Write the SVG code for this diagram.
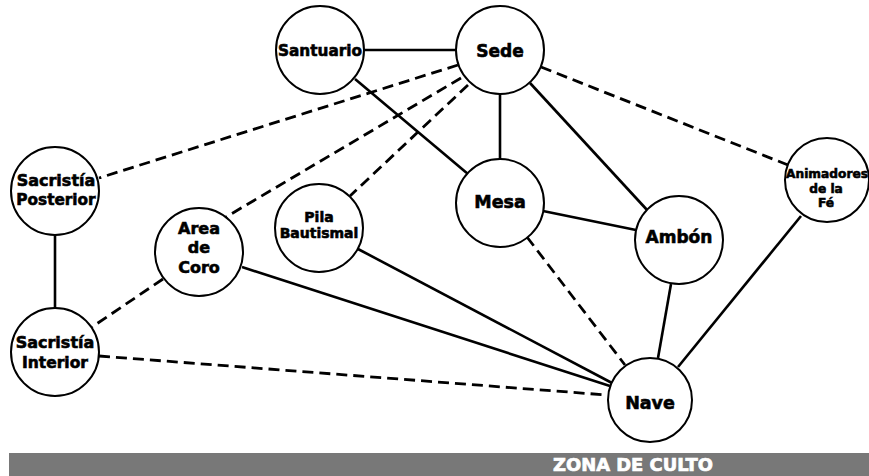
<svg xmlns="http://www.w3.org/2000/svg" width="869" height="476" viewBox="0 0 869 476">
<style>
.node{fill:#fff;stroke:#000;stroke-width:2}
.lbl{font-family:"DejaVu Sans","Liberation Sans",sans-serif;font-weight:bold;fill:#000;stroke:#000;stroke-width:0.6;text-anchor:middle}
.s{stroke:#000;stroke-width:2.6;fill:none}
.d{stroke:#000;stroke-width:2.8;fill:none;stroke-dasharray:11 6}
</style>
<rect width="869" height="476" fill="#fff"/>
<g id="connectors">
<line class="s" x1="364" y1="50" x2="456" y2="50"/>
<line class="s" x1="355" y1="79" x2="468" y2="174"/>
<line class="s" x1="500" y1="94" x2="500" y2="159"/>
<line class="s" x1="530" y1="83" x2="648" y2="211"/>
<line class="s" x1="543" y1="211" x2="636" y2="230"/>
<line class="s" x1="55" y1="235" x2="55" y2="308"/>
<line class="s" x1="242" y1="267" x2="610" y2="386"/>
<line class="s" x1="358" y1="249" x2="612" y2="383"/>
<line class="s" x1="671" y1="284" x2="658" y2="358"/>
<line class="s" x1="801" y1="216" x2="678" y2="367"/>
<line class="d" x1="458" y1="65" x2="99" y2="178"/>
<line class="d" x1="461" y1="78" x2="226" y2="217"/>
<line class="d" x1="468" y1="85" x2="350" y2="196"/>
<line class="d" x1="541" y1="67" x2="788" y2="165"/>
<line class="d" x1="527" y1="237" x2="625" y2="365"/>
<line class="d" x1="163" y1="279" x2="92" y2="327"/>
<line class="d" x1="99" y1="356" x2="607" y2="395"/>
</g>
<g id="santuario"><circle class="node" cx="320" cy="50" r="44"/><text class="lbl" x="320" y="56" font-size="15.5" textLength="84" lengthAdjust="spacingAndGlyphs">Santuario</text></g>
<g id="sede"><circle class="node" cx="500" cy="50" r="44"/><text class="lbl" x="500" y="57" font-size="17">Sede</text></g>
<g id="mesa"><circle class="node" cx="500" cy="203" r="44"/><text class="lbl" x="500" y="208" font-size="17.5">Mesa</text></g>
<g id="ambon"><circle class="node" cx="679" cy="240" r="44"/><text class="lbl" x="679" y="243" font-size="17">Ambón</text></g>
<g id="animadores"><circle class="node" cx="827" cy="180" r="42"/><text class="lbl" font-size="12.2" stroke-width="0.4"><tspan x="827" y="178">Animadores</tspan><tspan x="826" y="193">de la</tspan><tspan x="826" y="207">Fé</tspan></text></g>
<g id="nave"><circle class="node" cx="650" cy="400" r="42"/><text class="lbl" x="650" y="409" font-size="17.5">Nave</text></g>
<g id="sacristia-posterior"><circle class="node" cx="55" cy="191" r="44"/><text class="lbl" font-size="16"><tspan x="56" y="186">Sacristía</tspan><tspan x="56" y="205" font-size="15.3">Posterior</tspan></text></g>
<g id="sacristia-interior"><circle class="node" cx="55" cy="352" r="44"/><text class="lbl" font-size="16"><tspan x="55" y="348">Sacristía</tspan><tspan x="55" y="368" font-size="15.5">Interior</tspan></text></g>
<g id="area-de-coro"><circle class="node" cx="199" cy="252" r="44"/><text class="lbl" font-size="16"><tspan x="199" y="234">Area</tspan><tspan x="199" y="253">de</tspan><tspan x="199" y="273">Coro</tspan></text></g>
<g id="pila-bautismal"><circle class="node" cx="319" cy="228" r="44"/><text class="lbl" font-size="14" stroke-width="0.5"><tspan x="319" y="222">Pila</tspan><tspan x="319" y="238">Bautismal</tspan></text></g>
<g id="banner"><rect x="9" y="453" width="860" height="23" fill="#787878"/><text x="633" y="471" font-family="'DejaVu Sans',sans-serif" font-weight="bold" font-size="18" fill="#fff" stroke="#fff" stroke-width="0.7" text-anchor="middle" textLength="160" lengthAdjust="spacingAndGlyphs">ZONA DE CULTO</text></g>
</svg>
